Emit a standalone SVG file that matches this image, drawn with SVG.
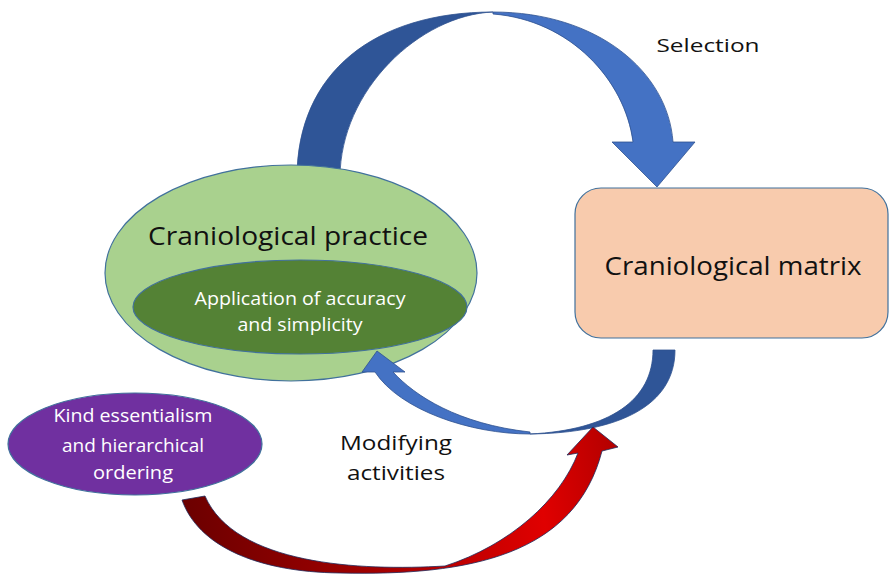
<svg xmlns="http://www.w3.org/2000/svg" width="890" height="574" viewBox="0 0 890 574">
<defs>
<linearGradient id="redGrad" gradientUnits="userSpaceOnUse" x1="180" y1="500" x2="620" y2="430">
<stop offset="0" stop-color="#6B0000"/>
<stop offset="0.45" stop-color="#A80000"/>
<stop offset="0.8" stop-color="#E00000"/>
<stop offset="1" stop-color="#B00000"/>
</linearGradient>
</defs>
<style>
.dark{fill:#2F5597;stroke:#2F528F;stroke-width:0.8}
.light{fill:#4472C4;stroke:#2F528F;stroke-width:0.8}
.red{fill:url(#redGrad);stroke:#1F2A5A;stroke-width:0.8}
.node{stroke:#41719C;stroke-width:1.2}
.t{font-family:"Open Sans","Noto Sans",sans-serif;text-anchor:middle}
.blk{fill:#111111}
.wht{fill:#FFFFFF}
</style>
<rect width="890" height="574" fill="#FFFFFF"/>
<g id="connectors">
<g id="selection-arrow">
<path class="dark" d="M297,178 C297,72 375,12 493,12 C420,15 340,90 340,178 Z"/>
<path class="light" d="M493,12 C598,12 668,72 673,142 L695,142 L657,187 L612,142 L633,142 C625,80 570,20 493,14 Z"/>
</g>
</g>
<g id="matrix">
<rect class="node" x="575" y="188" width="313" height="150" rx="26" fill="#F8CBAD"/>
<text class="t blk" x="733" y="275" font-size="25" textLength="257" lengthAdjust="spacingAndGlyphs">Craniological matrix</text>
</g>
<g id="practice">
<ellipse class="node" cx="291" cy="273" rx="186" ry="108" fill="#A9D18E"/>
<text class="t blk" x="288" y="245" font-size="25" textLength="280" lengthAdjust="spacingAndGlyphs">Craniological practice</text>
</g>
<g id="accuracy">
<ellipse class="node" cx="300" cy="307" rx="167" ry="47" fill="#548235"/>
<text class="t wht" x="300" y="305" font-size="17.5" textLength="211" lengthAdjust="spacingAndGlyphs">Application of accuracy</text>
<text class="t wht" x="300" y="331" font-size="17.5" textLength="125" lengthAdjust="spacingAndGlyphs">and simplicity</text>
</g>
<g id="connectors2">
<g id="modifying-arrow">
<path class="dark" d="M653,350 L675,350 C675,405 620,433 530,434 C610,430 653,400 653,350 Z"/>
<path class="light" d="M530,434 C470,434 400,410 375,372 L362,372 L377,351 L405,372 L393,372 C415,396 458,424 530,432 Z"/>
</g>
<g id="essentialism-arrow">
<path class="red" d="M182,500 C198,545 255,572 340,573 C470,576 575,555 602,451 L618,447 L593,427 L567,455 L578,453 C560,500 510,545 445,566 C360,571 235,565 205,496 Z"/>
</g>
<text class="t blk" x="708" y="52" font-size="18.5" textLength="103" lengthAdjust="spacingAndGlyphs">Selection</text>
<text class="t blk" x="396" y="450" font-size="19.5" textLength="112" lengthAdjust="spacingAndGlyphs">Modifying</text>
<text class="t blk" x="396" y="480" font-size="19.5" textLength="98" lengthAdjust="spacingAndGlyphs">activities</text>
</g>
<g id="essentialism">
<ellipse class="node" cx="135" cy="444" rx="127" ry="51" fill="#7030A0"/>
<text class="t wht" x="133" y="422" font-size="17.5" textLength="159" lengthAdjust="spacingAndGlyphs">Kind essentialism</text>
<text class="t wht" x="133" y="452" font-size="17.5" textLength="142" lengthAdjust="spacingAndGlyphs">and hierarchical</text>
<text class="t wht" x="133" y="479" font-size="17.5" textLength="80" lengthAdjust="spacingAndGlyphs">ordering</text>
</g>
</svg>
